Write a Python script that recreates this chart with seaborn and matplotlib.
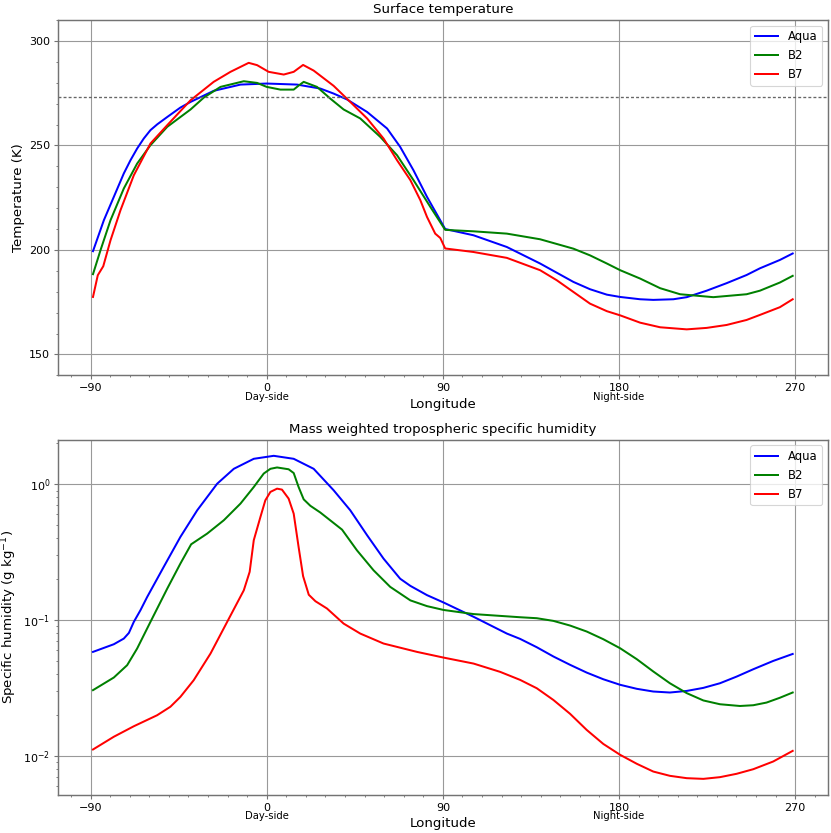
import pandas as pd
import matplotlib
matplotlib.use("Agg")
import matplotlib.pyplot as plt
import matplotlib.transforms as mtransforms
from matplotlib.ticker import MultipleLocator, FixedLocator
import seaborn as sns

# ---- surface temperature (K) vs longitude ----
aqua_t_lon = [-88.75, -83.2, -78.1, -73.0, -69.6, -66.2, -62.8, -59.4, -55.9, -50.8, -44.1, -38.9,
              -27.1, -13.4, 0, 15.5, 27.4, 34.2, 41.0, 51.3, 61.5, 68.2, 75.0, 81.9, 91.2, 105.7,
              122.7, 139.7, 156.7, 165.2, 173.8, 180.6, 190.8, 197.5, 207.8, 214.6,
              224.8, 235.0, 245.2, 252.0, 262.2, 268.75]
aqua_t = [199.4, 214.2, 225.4, 236.6, 242.9, 248.5, 253.3, 257.3, 260.1, 263.6, 268.1, 270.8,
          276.1, 279.1, 279.6, 279.1, 277.2, 274.8, 272.0, 266.0, 258.1, 249.3, 238.1, 225.4, 210.0, 207.0,
          201.4, 193.5, 184.7, 181.2, 178.6, 177.5, 176.4, 176.1, 176.4, 177.4,
          180.5, 184.1, 188.0, 191.2, 195.2, 198.3]

b2_t_lon = [-88.75, -84.9, -79.8, -73.0, -66.2, -59.4, -50.8, -38.9, -32.1, -23.6, -11.7, -4.9,
            0, 7.0, 13.8, 16.3, 18.9, 25.7, 32.5, 39.3, 47.8, 58.0, 66.6, 75.0, 83.6, 91.2,
            105.7, 122.7, 139.7, 156.7, 165.2, 173.8, 180.6, 190.8, 201.0, 211.2, 228.2, 245.2, 252.0,
            262.2, 268.75]
b2_t = [188.4, 199.9, 214.2, 229.4, 241.3, 250.1, 258.9, 267.2, 272.9, 278.0, 280.7, 279.9,
        278.0, 276.7, 276.7, 278.6, 280.4, 278.0, 272.4, 267.2, 262.9, 254.1, 245.3, 233.4, 220.6, 209.6,
        208.9, 207.8, 205.1, 200.6, 197.4, 193.5, 190.3, 186.3, 181.7, 178.8, 177.4, 178.8, 180.5,
        184.4, 187.6]

b7_t_lon = [-88.75, -86.3, -83.5, -79.8, -74.7, -67.9, -59.4, -50.8, -38.9, -27.1, -18.5, -9.2,
            -4.9, 1.0, 8.7, 13.8, 18.6, 24.0, 34.2, 42.7, 51.3, 59.7, 66.6, 73.4, 78.5, 81.9,
            86.1, 88.7, 91.2, 105.7, 122.7, 139.7, 148.2, 156.7, 165.2, 173.8, 180.6,
            190.8, 201.0, 214.6, 224.8, 235.0, 245.2, 252.0, 262.2, 268.75]
b7_t = [177.5, 187.9, 192.2, 204.6, 219.0, 235.7, 250.9, 259.7, 271.6, 280.4, 285.2, 289.5,
        288.4, 285.2, 283.9, 285.2, 288.5, 285.8, 278.5, 270.8, 262.9, 253.3, 242.9, 233.4, 223.8, 215.8,
        207.8, 205.7, 200.7, 199.0, 196.2, 190.3, 185.5, 179.9, 174.3, 170.7, 168.7,
        165.2, 163.0, 162.0, 162.7, 164.1, 166.5, 168.9, 172.6, 176.4]

# ---- mass weighted tropospheric specific humidity (g/kg) ----
aqua_q_lon = [-88.75, -78.1, -73.0, -70.4, -67.9, -64.5, -61.1, -52.6, -44.1, -35.5, -25.3, -16.8,
              -6.6, 3.6, 13.8, 24.0, 34.2, 42.7, 51.3, 59.7, 68.2, 73.4, 81.9, 90.4, 105.7, 122.7,
              129.5, 138.0, 146.5, 155.0, 163.5, 172.0, 180.6, 189.1, 197.5, 206.0, 214.6, 223.1,
              231.6, 240.1, 248.6, 258.8, 268.75]
aqua_q = [0.0585, 0.0666, 0.0733, 0.0807, 0.0972, 0.1185, 0.148, 0.247, 0.410, 0.644, 1.01, 1.30,
          1.54, 1.62, 1.54, 1.30, 0.904, 0.644, 0.422, 0.284, 0.202, 0.179, 0.153, 0.135, 0.106, 0.0798,
          0.0729, 0.0633, 0.0541, 0.0470, 0.0412, 0.0368, 0.0335, 0.0313, 0.0299, 0.0294, 0.0302, 0.0318,
          0.0344, 0.0385, 0.0436, 0.0502, 0.0565]

b2_q_lon = [-88.75, -78.1, -71.3, -66.2, -59.4, -50.8, -44.1, -38.6, -30.4, -21.9, -13.4, -6.6,
            -1.5, 1.9, 5.3, 11.2, 13.8, 16.3, 18.9, 22.3, 27.4, 38.5, 46.1, 54.6, 63.1, 73.4,
            81.9, 90.4, 105.7, 129.5, 138.0, 146.5, 155.0, 163.5, 172.0, 180.6, 189.1, 197.5,
            206.0, 214.6, 223.1, 231.6, 241.8, 248.6, 255.4, 262.2, 268.75]
b2_q = [0.0306, 0.0379, 0.0467, 0.0619, 0.0972, 0.171, 0.261, 0.362, 0.434, 0.544, 0.721, 0.955,
        1.20, 1.30, 1.33, 1.29, 1.21, 0.955, 0.775, 0.695, 0.62, 0.464, 0.327, 0.233, 0.176, 0.140,
        0.127, 0.119, 0.111, 0.1052, 0.1035, 0.0989, 0.0914, 0.0826, 0.0725, 0.0622, 0.0517, 0.0420,
        0.0344, 0.0291, 0.0257, 0.0241, 0.0234, 0.0237, 0.0248, 0.0269, 0.0294]

b7_q_lon = [-88.75, -78.1, -67.9, -56.0, -49.2, -44.1, -37.3, -28.7, -20.2, -11.7, -8.7, -6.6,
            -3.2, -0.7, 1.9, 5.3, 7.8, 11.2, 13.8, 16.3, 18.6, 21.5, 24.9, 30.8, 39.3, 47.8,
            59.7, 76.8, 90.4, 105.7, 119.3, 129.5, 138.0, 146.5, 155.0, 163.5, 172.0, 180.6,
            189.1, 197.5, 206.0, 214.6, 223.1, 231.6, 240.1, 248.6, 258.8, 268.75]
b7_q = [0.0112, 0.0139, 0.0166, 0.0200, 0.0231, 0.0273, 0.0362, 0.0569, 0.0972, 0.166, 0.227, 0.388,
        0.575, 0.762, 0.879, 0.929, 0.914, 0.785, 0.608, 0.346, 0.211, 0.154, 0.138, 0.122, 0.0945, 0.0798,
        0.0674, 0.0585, 0.0531, 0.048, 0.0417, 0.0364, 0.0316, 0.0259, 0.0205, 0.0156, 0.0123, 0.01023,
        0.00879, 0.00771, 0.00717, 0.00689, 0.00681, 0.00701, 0.00742, 0.00802, 0.00914, 0.01094]

models = ["Aqua", "B2", "B7"]
colors = {"Aqua": "blue", "B2": "green", "B7": "red"}
lon_ticks = [-90, 0, 90, 180, 270]

temp = {"Aqua": (aqua_t_lon, aqua_t), "B2": (b2_t_lon, b2_t), "B7": (b7_t_lon, b7_t)}
hum = {"Aqua": (aqua_q_lon, aqua_q), "B2": (b2_q_lon, b2_q), "B7": (b7_q_lon, b7_q)}

plt.rcParams['font.family'] = 'DejaVu Sans'
plt.rcParams['axes.edgecolor'] = '0.45'
plt.rcParams['xtick.color'] = '0.45'
plt.rcParams['ytick.color'] = '0.45'
plt.rcParams['xtick.labelcolor'] = 'black'
plt.rcParams['ytick.labelcolor'] = 'black'

fig, axes = plt.subplots(2, 1, figsize=(831 / 80, 833 / 80), dpi=80)
fig.subplots_adjust(left=0.0698, right=0.996, bottom=0.0456, top=0.976, hspace=0.181)


def style_axis(ax, ylabel, title):
    ax.set_title(title, fontsize=12)
    ax.set_xlabel("Longitude", fontsize=12, labelpad=4)
    ax.set_ylabel(ylabel, fontsize=12)
    ax.xaxis.set_major_locator(FixedLocator(lon_ticks))
    ax.xaxis.set_minor_locator(MultipleLocator(10))
    ax.tick_params(which='major', labelsize=10, length=3.5, width=1)
    ax.tick_params(which='minor', length=2, width=0.8)
    ax.grid(True, which='major', color='0.6', linewidth=1)
    for sp in ax.spines.values():
        sp.set_linewidth(1.3)
    trans = mtransforms.blended_transform_factory(ax.transData, ax.transAxes)
    ax.text(0, -0.046, "Day-side", transform=trans, ha='center', va='top', fontsize=9)
    ax.text(180, -0.046, "Night-side", transform=trans, ha='center', va='top', fontsize=9)
    ax.legend(loc='upper right', fontsize=10.5)


# Top: surface temperature
ax = axes[0]
for m in models:
    x, y = temp[m]
    sns.lineplot(x=x, y=y, color=colors[m], linewidth=1.8, label=m, ax=ax)
ax.axhline(273.15, color='0.4', linewidth=1.2, dashes=(2.2, 1.6))
ax.set_ylim(140, 310)
ax.yaxis.set_major_locator(MultipleLocator(50))
ax.yaxis.set_minor_locator(MultipleLocator(10))
style_axis(ax, "Temperature (K)", "Surface temperature")

# Bottom: specific humidity (log scale)
ax = axes[1]
for m in models:
    x, y = hum[m]
    sns.lineplot(x=x, y=y, color=colors[m], linewidth=1.8, label=m, ax=ax)
ax.set_yscale('log')
ax.relim()
ax.autoscale_view()
style_axis(ax, r"Specific humidity (g kg$^{-1}$)", "Mass weighted tropospheric specific humidity")

fig.savefig("out.png", dpi=80)
